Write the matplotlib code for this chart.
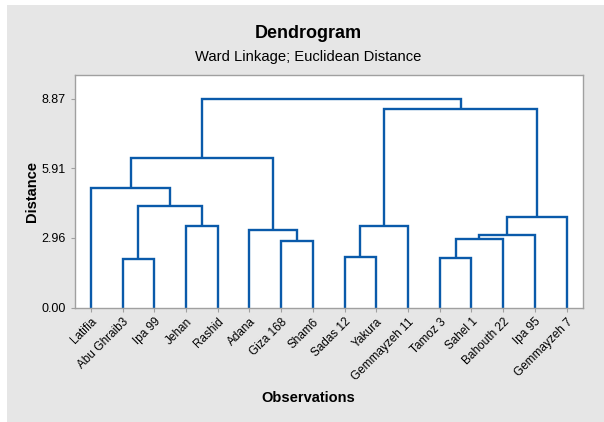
import matplotlib
matplotlib.use('Agg')
import matplotlib.pyplot as plt
from matplotlib.patches import Rectangle

plt.rcParams['font.family'] = ['Liberation Sans', 'DejaVu Sans']

# leaf order as shown on the x axis
leaves = ['Latifia', 'Abu Ghraib3', 'Ipa 99', 'Jehan', 'Rashid', 'Adana',
          'Giza 168', 'Sham6', 'Sadas 12', 'Yakura', 'Gemmayzeh 11',
          'Tamoz 3', 'Sahel 1', 'Bahouth 22', 'Ipa 95', 'Gemmayzeh 7']

# merges: ids 0-15 are leaves, each merge gets next id (16, 17, ...)
merge_a = [1, 11, 8, 6, 17, 20, 5, 18, 3, 21, 16, 0, 27, 23, 28]
merge_b = [2, 12, 9, 7, 13, 14, 19, 10, 4, 15, 24, 26, 22, 25, 29]
merge_h = [2.05, 2.09, 2.13, 2.84, 2.92, 3.06, 3.29, 3.45, 3.46, 3.86,
           4.32, 5.07, 6.36, 8.45, 8.87]

yticks = [0.00, 2.96, 5.91, 8.87]

line_col = '#0a5aaa'
grey_bg = '#e6e6e6'
spine_col = '#a0a0a0'

fig = plt.figure(figsize=(6.04, 4.22), dpi=100, facecolor='white')
fig.patches.append(Rectangle((7 / 604, 0), 1, 417 / 422, transform=fig.transFigure,
                             facecolor=grey_bg, edgecolor='none', zorder=-10))

ax = fig.add_axes([75 / 604, 1 - 307.5 / 422, (582.5 - 75) / 604, (307.5 - 74.7) / 422])
ax.set_facecolor('white')

xpos = {i: float(i) for i in range(len(leaves))}
hpos = {i: 0.0 for i in range(len(leaves))}
n = len(leaves)
for k, (a, b, h) in enumerate(zip(merge_a, merge_b, merge_h)):
    xa, xb = xpos[a], xpos[b]
    ax.plot([xa, xa, xb, xb], [hpos[a], h, h, hpos[b]], color=line_col,
            lw=1.7, solid_joinstyle='miter', solid_capstyle='butt', clip_on=False)
    xpos[n + k] = (xa + xb) / 2
    hpos[n + k] = h

ax.set_xlim(-0.5, 15.5)
ax.set_ylim(0, 9.89)
ax.set_xticks(range(n))
ax.set_xticklabels(leaves, rotation=45, ha='right', va='top',
                   rotation_mode='anchor', fontsize=8.5)
ax.set_yticks(yticks)
ax.set_yticklabels(['%.2f' % v for v in yticks], fontsize=9)
ax.tick_params(axis='both', direction='out', length=3, color=spine_col, width=0.8)
ax.tick_params(axis='x', pad=3)
for s in ax.spines.values():
    s.set_color(spine_col)
    s.set_linewidth(1.0)

ax.set_ylabel('Distance', fontsize=10.5, fontweight='bold')
ax.yaxis.set_label_coords(-0.07, 0.5)

fig.text(308 / 604, 1 - 34 / 422, 'Dendrogram', ha='center', va='center',
         fontsize=13, fontweight='bold')
fig.text(308 / 604, 1 - 56.5 / 422, 'Ward Linkage; Euclidean Distance', ha='center',
         va='center', fontsize=10.6)
fig.text(308 / 604, 1 - 398 / 422, 'Observations', ha='center', va='center',
         fontsize=10.5, fontweight='bold')

fig.savefig('out.png', dpi=100, facecolor=fig.get_facecolor())
